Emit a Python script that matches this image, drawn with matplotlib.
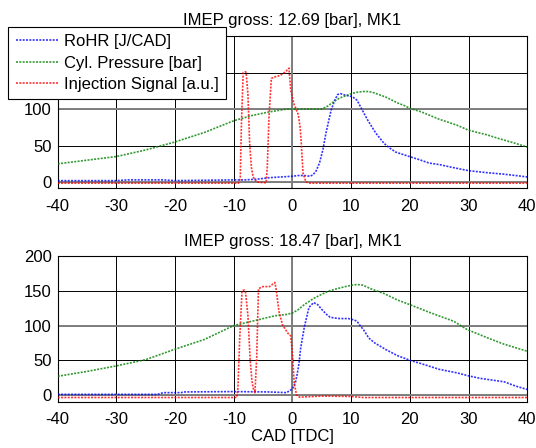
import matplotlib.pyplot as plt

plt.rcParams['font.family'] = ['Liberation Sans', 'DejaVu Sans']
plt.rcParams['font.size'] = 12
plt.rcParams['axes.unicode_minus'] = False

# --- data (CAD, value) ---
# upper panel: IMEP gross 12.69 bar
top_p_cad = [-40, -35, -30, -25, -20, -15, -10, -7, -4, -1, 2, 5, 6, 7, 8, 9, 10, 11, 12, 13,
             14, 15, 16, 17, 18, 19, 20, 22, 25, 28, 30, 33, 35, 38, 40]
top_p_val = [25, 30, 35, 44, 55, 68, 84, 91, 96, 100, 100, 100, 104, 110, 115, 118, 121, 123, 124, 124,
             122, 119, 116, 112, 108, 105, 101, 96, 86, 78, 71, 65, 60, 53, 48]

top_hr_cad = [-40, -30, -28, -22, -20, -15, -10, -8, -6, -4, -2, 0, 1, 2, 3, 3.5, 4, 4.6, 5.2, 5.7,
              6.2, 6.6, 7.2, 7.7, 8.2, 9, 10.2, 11, 11.6, 12.2, 12.8, 13.5, 14.2, 15, 15.6, 16.5,
              17.6, 19.9, 21.5, 23.3, 25, 26.7, 28.5, 30.1, 33, 35.8, 38, 40]
top_hr_val = [2, 2, 3, 3, 2, 2.5, 3, 3, 4, 6, 7, 8, 9, 9, 8, 10, 15, 26, 45, 67,
              85, 99, 112, 120, 121, 119, 117, 112, 103, 94, 85, 76, 67, 59, 53, 47,
              41, 35, 31, 26, 24, 21, 18, 15.5, 13, 11, 9, 7]

top_inj_cad = [-40, -9.2, -8.9, -8.7, -8.4, -8.0, -7.9, -7.6, -7.3, -7.0, -6.7, -6.1, -4.5, -4.3,
               -4.0, -3.6, -3.0, -2.1, -1.2, -0.6, -0.3, 0.2, 0.6, 1.0, 1.3, 1.5, 1.8, 2.3, 3, 40]
top_inj_val = [-1.5, -1.5, 5, 80, 150, 151, 150, 121, 53, 20, 7, 0, -1, 20,
               90, 142, 144, 146, 151, 156, 126, 108, 100, 92, 75, 53, 12, 0, -1.5, -1.5]

# lower panel: IMEP gross 18.47 bar
bot_p_cad = [-40, -35, -30, -25, -20, -15, -10, -7, -5, -3, -1, 0, 1, 2, 3.6, 5, 6, 7.6, 9, 10.1,
             11, 12, 13.3, 15.6, 17.8, 20, 23, 24.6, 27.5, 29.8, 33.3, 36.1, 40]
bot_p_val = [27, 34, 42, 51, 66, 80, 100, 106, 110, 114, 116, 118, 123, 130, 139, 145, 149, 153, 156, 158,
             159, 158, 153, 146, 137, 130, 120, 115, 106, 94, 82, 73, 63]

bot_hr_cad = [-40, -23, -22, -19, -18.5, -10, -4, -1, 0, 0.5, 0.8, 1.1, 1.4, 2.0, 2.8, 3.6, 4.3, 5,
              5.8, 6.4, 7, 8, 9.5, 10.5, 11, 11.6, 12.1, 13, 14, 15, 16, 17.8, 20, 22, 25, 28, 30,
              32, 36.1, 38, 40]
bot_hr_val = [1, 1, 3.5, 3.5, 4.5, 5, 4.5, 3.5, 9, 18, 30, 45, 68, 97, 126, 133, 130, 123,
              116, 112, 111, 110, 110, 108, 106, 99, 94, 82, 75, 70, 65, 57, 50, 45, 37, 32, 27.6,
              24, 19, 13, 8]

bot_inj_cad = [-40, -9.5, -9.3, -9.0, -8.6, -8.2, -8.0, -7.6, -7.2, -6.9, -6.7, -6.4, -6.1, -5.8,
               -5.0, -3.9, -3.3, -3.0, -2.8, -2.3, -1.7, -0.8, -0.3, 0.0, 0.3, 0.7, 1.2, 5, 10, 12, 40]
bot_inj_val = [-3.5, -3.5, 10, 80, 150, 151, 148, 115, 49, 20, 10, 3.5, 54, 153,
               156, 156, 160, 162, 153, 120, 101, 89, 85, 58, 16, 0, -3, -1.5, -2, -3.5, -3.5]

panels = [
    ('IMEP gross: 12.69 [bar], MK1', top_hr_cad, top_hr_val, top_p_cad, top_p_val, top_inj_cad, top_inj_val, -8.5, 8),
    ('IMEP gross: 18.47 [bar], MK1', bot_hr_cad, bot_hr_val, bot_p_cad, bot_p_val, bot_inj_cad, bot_inj_val, -9.5, 7.5),
]

fig = plt.figure(figsize=(5.36, 4.48), dpi=100)
ax_top = fig.add_axes([0.1077, 0.5797, 0.876, 0.3399])
ax_bot = fig.add_axes([0.1077, 0.1034, 0.876, 0.3252])

dots = (0, (1.2, 0.8))
for ax, (title, hx, hy, px, py, ix, iy, ymin, tpad) in zip([ax_top, ax_bot], panels):
    # reference lines that show thicker/grey in the original
    ax.axhline(0, color='0.5', lw=1.4, zorder=1)
    ax.axhline(100, color='0.5', lw=1.4, zorder=1)
    ax.axvline(0, color='0.5', lw=1.4, zorder=1)
    ax.plot(hx, hy, color='blue', ls=dots, lw=1.2, alpha=0.8, label='RoHR [J/CAD]', zorder=3)
    ax.plot(px, py, color=(0, 0.5, 0), ls=dots, lw=1.2, alpha=0.8, label='Cyl. Pressure [bar]', zorder=3)
    ax.plot(ix, iy, color='red', ls=dots, lw=1.2, alpha=0.8, label='Injection Signal [a.u.]', zorder=3)
    ax.set_xlim(-40, 40)
    ax.set_ylim(ymin, 200)
    ax.set_xticks(range(-40, 41, 10))
    ax.set_yticks([0, 50, 100, 150, 200])
    ax.grid(True, color='black', lw=0.7, zorder=0)
    ax.set_axisbelow(True)
    ax.tick_params(direction='in', length=0, labelsize=12)
    ax.tick_params(axis='x', pad=7.5)
    ax.tick_params(axis='y', pad=4.3)
    for s in ax.spines.values():
        s.set_linewidth(0.8)
    ax.set_title(title, fontsize=12, pad=tpad)

ax_bot.set_xlabel('CAD [TDC]', fontsize=12, labelpad=1.4)

handles = ax_top.get_lines()[3:]
leg = fig.legend(handles=handles, labels=[h.get_label() for h in handles],
                 loc='upper left', bbox_to_anchor=(8 / 536, 1 - 26.7 / 448),
                 fontsize=12, frameon=True, fancybox=False, framealpha=1,
                 edgecolor='black', handlelength=2.6, handletextpad=0.3,
                 borderpad=0.45, labelspacing=0.38, borderaxespad=0)
leg.get_frame().set_linewidth(0.8)

fig.savefig('out.png', dpi=100)
